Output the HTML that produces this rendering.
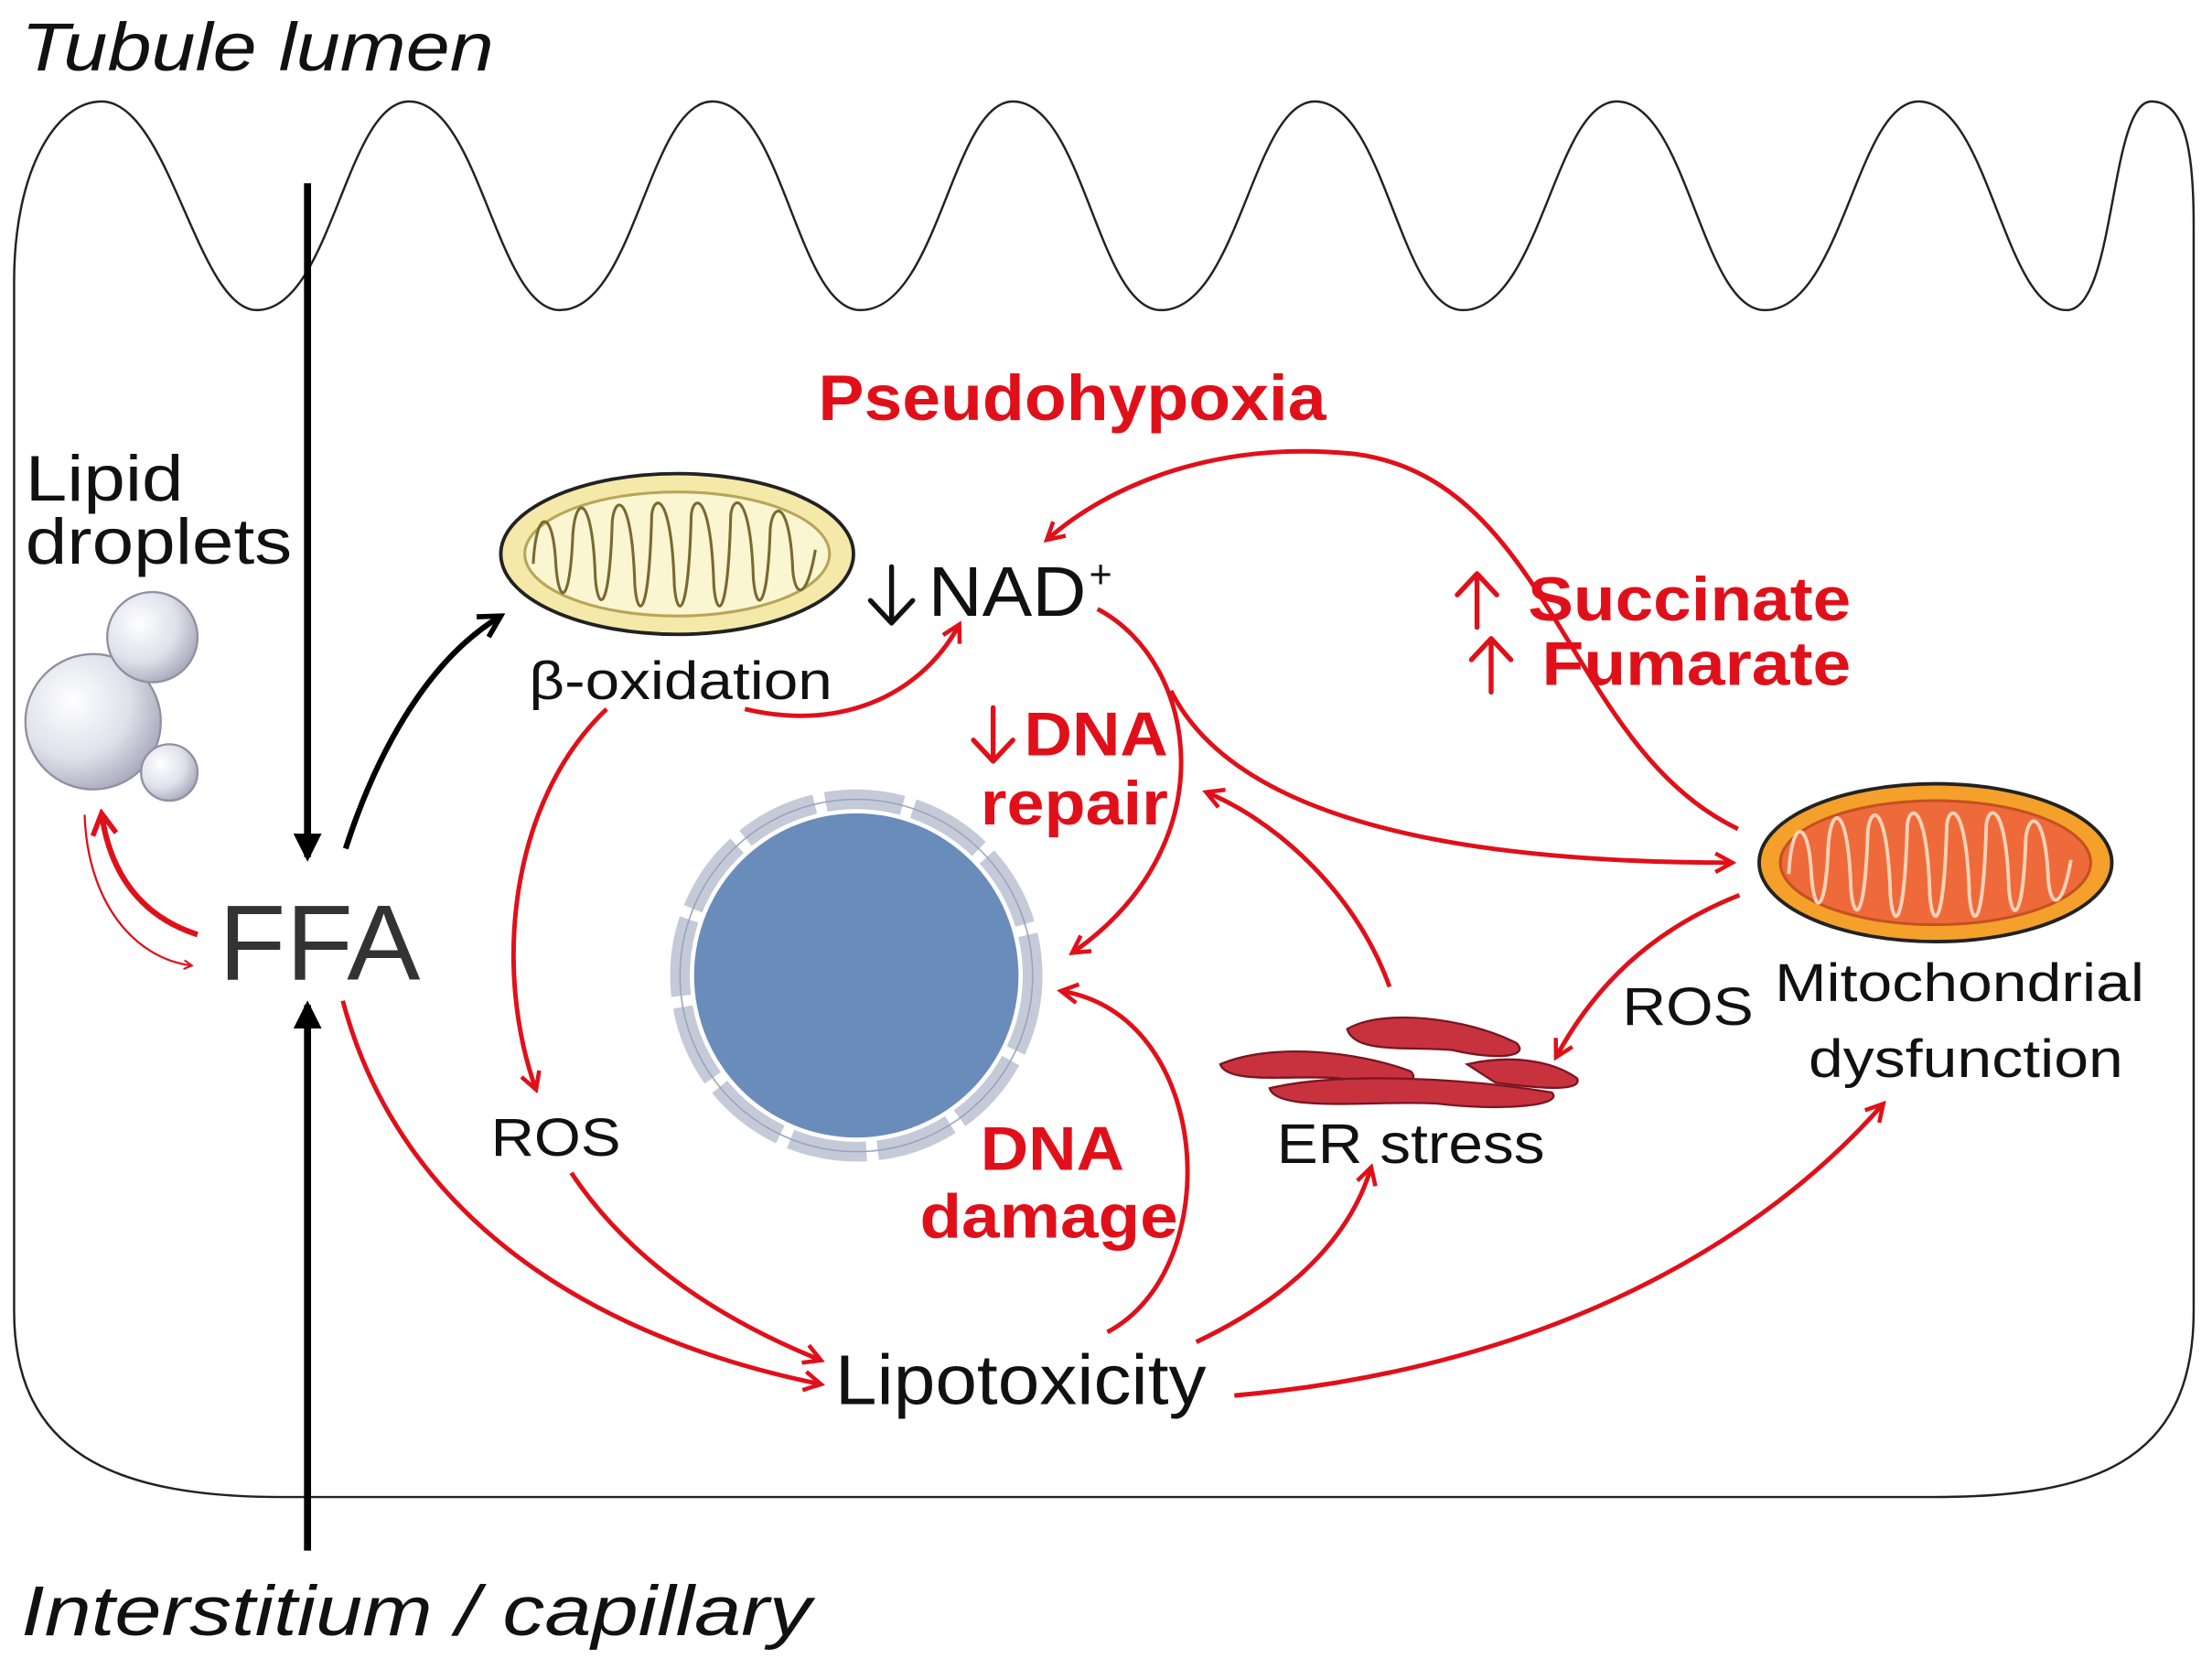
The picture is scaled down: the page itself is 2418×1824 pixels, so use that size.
<!DOCTYPE html>
<html><head><meta charset="utf-8"><style>
html,body{margin:0;padding:0;background:#fff;}
svg{display:block;}
text{font-family:"Liberation Sans",Arial,sans-serif;}
.r{fill:#e0101a;font-weight:bold;}
</style></head><body>
<svg width="2418" height="1824" viewBox="0 0 1568 1184" preserveAspectRatio="none" xmlns="http://www.w3.org/2000/svg">
<defs>
<marker id="ar" viewBox="0 0 12 12" refX="10" refY="6" markerWidth="5" markerHeight="5" orient="auto" markerUnits="strokeWidth">
<path d="M1,1 L10,6 L1,11" fill="none" stroke="#e0101a" stroke-width="2.2"/>
</marker>
<marker id="ab" viewBox="0 0 12 12" refX="10" refY="6" markerWidth="4" markerHeight="4" orient="auto" markerUnits="strokeWidth">
<path d="M0,0 L12,6 L0,12 Z" fill="#000"/>
</marker>
<marker id="abo" viewBox="0 0 12 12" refX="10" refY="6" markerWidth="5" markerHeight="5" orient="auto" markerUnits="strokeWidth">
<path d="M1,1 L10,6 L1,11" fill="none" stroke="#000" stroke-width="2.2"/>
</marker>
<radialGradient id="sph" cx="0.35" cy="0.35" r="0.7">
<stop offset="0" stop-color="#ffffff"/><stop offset="0.6" stop-color="#dfe0ea"/><stop offset="1" stop-color="#a9abbd"/>
</radialGradient>
</defs>
<rect width="1568" height="1184" fill="#fff"/>
<text x="15" y="50" font-size="48" font-style="italic" fill="#111" textLength="335" lengthAdjust="spacingAndGlyphs">Tubule lumen</text>
<!-- cell outline -->
<path d="M10,200 C10,120 40,72 72,72 C120,72 140,220 182,220 C235,220 245,72 290,72 C340,72 352,220 397,220 C450,220 460,72 505,72 C555,72 565,220 610,220 C665,220 675,72 718,72 C768,72 778,220 823,220 C878,220 888,72 932,72 C982,72 992,220 1037,220 C1092,220 1102,72 1146,72 C1196,72 1206,220 1251,220 C1306,220 1316,72 1360,72 C1410,72 1420,220 1465,220 C1500,220 1495,72 1525,72 C1550,72 1555,110 1555,160 L1555,930 C1555,1040 1480,1062 1370,1062 L200,1062 C80,1062 10,1030 10,930 Z" fill="none" stroke="#222" stroke-width="1.6"/>
<!-- black vertical arrows -->
<line x1="218" y1="130" x2="218" y2="608" stroke="#000" stroke-width="5" marker-end="url(#ab)"/>
<line x1="218" y1="1100" x2="218" y2="713" stroke="#000" stroke-width="5" marker-end="url(#ab)"/>
<path d="M245,602 C265,540 300,470 355,437" fill="none" stroke="#000" stroke-width="4" marker-end="url(#abo)"/>
<text x="155" y="695" font-size="76" fill="#333" textLength="143" lengthAdjust="spacingAndGlyphs">FFA</text>
<text x="18" y="355" font-size="46" fill="#111" textLength="112" lengthAdjust="spacingAndGlyphs">Lipid</text>
<text x="18" y="400" font-size="46" fill="#111" textLength="189" lengthAdjust="spacingAndGlyphs">droplets</text>
<circle cx="66" cy="512" r="48" fill="url(#sph)" stroke="#8e90a3" stroke-width="1.5"/>
<circle cx="108" cy="452" r="32" fill="url(#sph)" stroke="#8e90a3" stroke-width="1.5"/>
<circle cx="120" cy="548" r="20" fill="url(#sph)" stroke="#8e90a3" stroke-width="1.5"/>
<path d="M140,663 C100,650 78,620 72,577" fill="none" stroke="#e0101a" stroke-width="4" marker-end="url(#ar)"/>
<path d="M60,578 C62,640 95,680 136,685" fill="none" stroke="#e0101a" stroke-width="1.5" marker-end="url(#ar)"/>
<!-- yellow mito -->
<ellipse cx="480" cy="393" rx="125" ry="57" fill="#f4e9a8" stroke="#222" stroke-width="2.5"/>
<ellipse cx="480" cy="393" rx="108" ry="44" fill="#fbf6d2" stroke="#b8a55a" stroke-width="2"/>
<path d="M378,400 C380,360 392,360 394,400 C396,430 404,430 406,380 C408,350 420,350 422,410 C424,435 432,435 434,370 C436,350 448,350 450,415 C452,440 460,440 462,365 C464,350 476,350 478,415 C480,440 488,440 490,365 C492,350 504,350 506,415 C508,440 516,440 518,365 C520,350 532,350 534,410 C536,435 544,435 546,375 C548,355 560,355 562,405 C564,425 572,425 578,390" fill="none" stroke="#7a6a30" stroke-width="2"/>
<text x="375" y="496" font-size="38" fill="#111" textLength="215" lengthAdjust="spacingAndGlyphs">β-oxidation</text>
<!-- arrow glyphs drawn -->
<g fill="none" stroke-width="3.5" stroke-linecap="round" stroke-linejoin="round">
<path d="M632,402 L632,442 M617,426 L632,442 L647,426" stroke="#111"/>
<path d="M1047,445 L1047,407 M1033,422 L1047,407 L1061,422" stroke="#e0101a"/>
<path d="M1057,491 L1057,453 M1043,468 L1057,453 L1071,468" stroke="#e0101a"/>
<path d="M704,502 L704,540 M690,525 L704,540 L718,525" stroke="#e0101a"/>
</g>
<text x="658" y="437" font-size="50" fill="#111" textLength="112" lengthAdjust="spacingAndGlyphs">NAD</text>
<text x="772" y="417" font-size="28" fill="#111">+</text>
<text x="580" y="298" font-size="46" class="r" textLength="360" lengthAdjust="spacingAndGlyphs">Pseudohypoxia</text>
<text x="1083" y="440" font-size="44" class="r" textLength="229" lengthAdjust="spacingAndGlyphs">Succinate</text>
<text x="1093" y="486" font-size="44" class="r" textLength="219" lengthAdjust="spacingAndGlyphs">Fumarate</text>
<text x="726" y="536" font-size="44" class="r" textLength="102" lengthAdjust="spacingAndGlyphs">DNA</text>
<text x="695" y="585" font-size="44" class="r" textLength="133" lengthAdjust="spacingAndGlyphs">repair</text>
<!-- nucleus -->
<circle cx="607" cy="692" r="125" fill="none" stroke="#c4cad8" stroke-width="14" stroke-dasharray="55 8"/>
<circle cx="607" cy="692" r="125" fill="none" stroke="#9aa3b8" stroke-width="1" />
<circle cx="607" cy="692" r="115" fill="#6a8cba"/>
<text x="695" y="830" font-size="44" class="r" textLength="102" lengthAdjust="spacingAndGlyphs">DNA</text>
<text x="652" y="878" font-size="44" class="r" textLength="183" lengthAdjust="spacingAndGlyphs">damage</text>
<text x="348" y="820" font-size="38" fill="#111" textLength="92" lengthAdjust="spacingAndGlyphs">ROS</text>
<text x="592" y="996" font-size="50" fill="#111" textLength="263" lengthAdjust="spacingAndGlyphs">Lipotoxicity</text>
<!-- ER -->
<g fill="#c8323f" stroke="#7a1520" stroke-width="1.5">
<path d="M955,730 C980,715 1040,722 1075,740 C1085,750 1060,752 1030,745 C1000,742 960,748 955,730 Z"/>
<path d="M865,755 C900,740 960,745 1000,760 C1010,770 980,772 950,765 C920,762 870,770 865,755 Z"/>
<path d="M900,772 C950,760 1040,765 1100,775 C1110,785 1060,788 1020,783 C980,780 905,790 900,772 Z"/>
<path d="M1040,755 C1070,748 1100,752 1118,765 C1122,775 1090,772 1060,768 Z"/>
</g>
<text x="905" y="825" font-size="40" fill="#111" textLength="190" lengthAdjust="spacingAndGlyphs">ER stress</text>
<!-- orange mito -->
<ellipse cx="1372" cy="612" rx="125" ry="56" fill="#f4a02a" stroke="#222" stroke-width="2.5"/>
<ellipse cx="1372" cy="612" rx="110" ry="44" fill="#ee6a3a" stroke="#c55020" stroke-width="2"/>
<path d="M1268,620 C1270,580 1282,580 1284,620 C1286,650 1294,650 1296,600 C1298,570 1310,570 1312,630 C1314,655 1322,655 1324,590 C1326,570 1338,570 1340,635 C1342,660 1350,660 1352,585 C1354,570 1366,570 1368,635 C1370,660 1378,660 1380,585 C1382,570 1394,570 1396,635 C1398,660 1406,660 1408,585 C1410,570 1422,570 1424,630 C1426,655 1434,655 1436,595 C1438,575 1450,575 1452,625 C1454,645 1462,645 1468,610" fill="none" stroke="#fbd2b8" stroke-width="2.5"/>
<text x="1150" y="727" font-size="38" fill="#111" textLength="93" lengthAdjust="spacingAndGlyphs">ROS</text>
<text x="1258" y="710" font-size="38" fill="#111" textLength="262" lengthAdjust="spacingAndGlyphs">Mitochondrial</text>
<text x="1282" y="764" font-size="38" fill="#111" textLength="223" lengthAdjust="spacingAndGlyphs">dysfunction</text>
<text x="15" y="1160" font-size="50" font-style="italic" fill="#111" textLength="560" lengthAdjust="spacingAndGlyphs">Interstitium / capillary</text>
<!-- red arrows -->
<g fill="none" stroke="#e0101a" stroke-width="3.2" marker-end="url(#ar)">
<path d="M1232,588 C1110,530 1100,340 960,322 C860,312 785,345 742,383"/>
<path d="M528,503 C600,520 655,490 680,443"/>
<path d="M778,432 C850,470 870,600 760,676"/>
<path d="M830,490 C870,570 1000,612 1228,612"/>
<path d="M430,503 C360,570 350,690 380,773"/>
<path d="M405,832 C450,900 520,940 582,965"/>
<path d="M243,710 C280,850 400,945 582,982"/>
<path d="M785,945 C870,900 860,720 752,703"/>
<path d="M985,700 C960,630 900,580 855,562"/>
<path d="M848,952 C905,925 955,885 972,828"/>
<path d="M875,990 C1100,970 1250,880 1335,783"/>
<path d="M1233,635 C1170,660 1130,700 1103,750"/>
</g>
</svg>
</body></html>
